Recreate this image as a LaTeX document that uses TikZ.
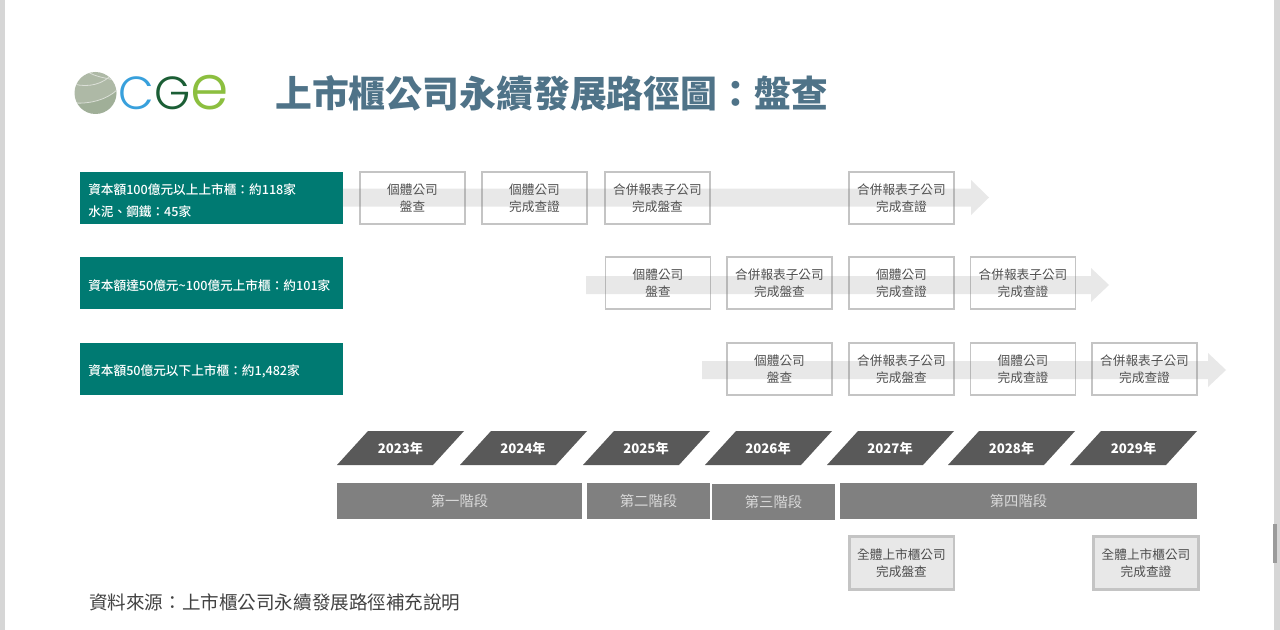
\documentclass[tikz,border=0pt]{standalone}
\usepackage{fontspec}
\usepackage{xcolor}
\setmainfont{Noto Sans CJK TC}
\newfontfamily\logofont{Poppins Light}
\newfontfamily\mediumfont{Noto Sans CJK TC Medium}
\newcommand{\widecolon}{\symbol{"FF1A}}
\definecolor{vizTeal}{HTML}{007A72}
\definecolor{vizTitle}{HTML}{4F7388}
\definecolor{vizText}{HTML}{4D4D4D}
\definecolor{vizBorder}{HTML}{C4C4C4}
\definecolor{vizYear}{HTML}{595959}
\definecolor{vizPhase}{HTML}{808080}
\definecolor{vizAll}{HTML}{E8E8E8}
\definecolor{vizEdge}{HTML}{D6D6D6}
\definecolor{vizGlobe}{HTML}{AEB9A6}
\definecolor{vizLogoBlue}{HTML}{38A0DC}
\definecolor{vizLogoDark}{HTML}{1B5E35}
\definecolor{vizLogoLime}{HTML}{8CBF3F}
\tikzset{
  stagebox/.style={draw=vizBorder, line width=0.035cm, fill=white, text=vizText, minimum width=2.62cm, minimum height=1.3cm, inner sep=0pt, align=center, font=\fontsize{9}{12.1}\selectfont},
  allbox/.style={stagebox, fill=vizAll, line width=0.07cm, minimum width=2.62cm, minimum height=1.32cm},
  tealtext/.style={anchor=west, text=white, inner sep=0pt, align=left, font=\mediumfont\fontsize{9}{15.6}\selectfont},
  yeartext/.style={text=white, inner sep=0pt, font=\fontsize{9.4}{12}\selectfont\bfseries},
  phasebox/.style={fill=vizPhase, text=white!85!black, inner sep=0pt, minimum height=0.92cm, font=\fontsize{10.2}{12}\selectfont},
  flowarrow/.style={fill=gray, fill opacity=0.18, draw=none},
  logoletter/.style={inner sep=0pt, font=\logofont}
}
\begin{document}
\begin{tikzpicture}[x=0.025cm, y=-0.025cm]
  \useasboundingbox (0,0) rectangle (1280,630);
  \fill[white] (0,0) rectangle (1280,630);
  \fill[vizEdge] (0,0) rectangle (5,630);
  \fill[vizEdge] (1274,0) rectangle (1280,630);
  \fill[vizYear!60!white] (1273,524) rectangle (1277,563);

  % logo
  \fill[vizGlobe] (95.5,93) circle (21);
  \begin{scope}
    \clip (95.5,93) circle (21);
    \fill[vizGlobe!85!green!70!black, opacity=0.2] (74,103) .. controls (90,104) and (106,100) .. (117,90) -- (117,115) -- (74,115) -- cycle;
    \draw[vizGlobe!45!white, line width=0.02cm] (74,84) .. controls (88,88) and (104,84) .. (112,74);
    \draw[vizGlobe!45!white, line width=0.02cm] (74,103) .. controls (90,104) and (106,100) .. (117,90);
    \draw[vizGlobe!45!white, line width=0.02cm] (88,72) .. controls (96,77) and (106,78) .. (114,80);
  \end{scope}
  \node[logoletter, text=vizLogoBlue, anchor=base west] (logoC) at (118.5,110) {\fontsize{33}{33}\selectfont C};
  \node[logoletter, text=vizLogoDark, anchor=base west] (logoG) at (154.5,110) {\fontsize{33}{33}\selectfont G};
  \node[logoletter, text=vizLogoLime, anchor=base west] (logoE) at (190.5,110) {\fontsize{44}{44}\selectfont e};

  % title
  \node[anchor=west, inner sep=0pt, text=vizTitle, font=\fontsize{26.2}{30}\selectfont\bfseries] (title) at (275,93.5) {上市櫃公司永續發展路徑圖\widecolon 盤查};

  % left labels
  \fill[vizTeal] (80,172) rectangle (342.5,224);
  \node[tealtext] (capA) at (88,201) {資本額100億元以上上市櫃\widecolon 約118家\\水泥、鋼鐵\widecolon 45家};
  \fill[vizTeal] (80,257) rectangle (342.5,309);
  \node[tealtext] (capB) at (88,286) {資本額達50億元\textasciitilde 100億元上市櫃\widecolon 約101家};
  \fill[vizTeal] (80,343) rectangle (342.5,395);
  \node[tealtext] (capC) at (88,371.5) {資本額50億元以下上市櫃\widecolon 約1,482家};

  % first row
  \node[stagebox] (rowA1) at (412.5,198) {個體公司\\盤查};
  \node[stagebox] (rowA2) at (534.5,198) {個體公司\\完成查證};
  \node[stagebox] (rowA3) at (657.5,198) {合併報表子公司\\完成盤查};
  \node[stagebox] (rowA4) at (901.5,198) {合併報表子公司\\完成查證};
  % second row
  \node[stagebox] (rowB1) at (658,283) {個體公司\\盤查};
  \node[stagebox] (rowB2) at (779.5,283) {合併報表子公司\\完成盤查};
  \node[stagebox] (rowB3) at (901.5,283) {個體公司\\完成查證};
  \node[stagebox] (rowB4) at (1023,283) {合併報表子公司\\完成查證};
  % third row
  \node[stagebox] (rowC1) at (779.5,369) {個體公司\\盤查};
  \node[stagebox] (rowC2) at (901.5,369) {合併報表子公司\\完成盤查};
  \node[stagebox] (rowC3) at (1023,369) {個體公司\\完成查證};
  \node[stagebox] (rowC4) at (1144.5,369) {合併報表子公司\\完成查證};

  % arrows over the boxes
  \fill[flowarrow] (342.5,188.5) -- (971,188.5) -- (971,180) -- (989,197.5) -- (971,215) -- (971,206.5) -- (342.5,206.5) -- cycle;
  \fill[flowarrow] (586,276) -- (1091,276) -- (1091,268) -- (1109,285) -- (1091,302) -- (1091,294) -- (586,294) -- cycle;
  \fill[flowarrow] (702,361) -- (1208,361) -- (1208,353) -- (1226,370) -- (1208,387) -- (1208,379) -- (702,379) -- cycle;

  % years
  \fill[vizYear] (337,465) -- (368,431) -- (464,431) -- (433,465) -- cycle;
  \node[yeartext] (y2023) at (400.5,448) {2023年};
  \fill[vizYear] (460,465) -- (491,431) -- (587,431) -- (556,465) -- cycle;
  \node[yeartext] (y2024) at (523,448) {2024年};
  \fill[vizYear] (583,465) -- (614,431) -- (710,431) -- (679,465) -- cycle;
  \node[yeartext] (y2025) at (646,448) {2025年};
  \fill[vizYear] (705,465) -- (736,431) -- (832,431) -- (801,465) -- cycle;
  \node[yeartext] (y2026) at (768,448) {2026年};
  \fill[vizYear] (827,465) -- (858,431) -- (954,431) -- (923,465) -- cycle;
  \node[yeartext] (y2027) at (890,448) {2027年};
  \fill[vizYear] (948,465) -- (979,431) -- (1075,431) -- (1044,465) -- cycle;
  \node[yeartext] (y2028) at (1011.5,448) {2028年};
  \fill[vizYear] (1070,465) -- (1101,431) -- (1197,431) -- (1166,465) -- cycle;
  \node[yeartext] (y2029) at (1133.5,448) {2029年};

  % phases
  \node[phasebox, minimum width=6.125cm] (phaseA) at (459.5,501) {第一階段};
  \node[phasebox, minimum width=3.075cm] (phaseB) at (648.5,501) {第二階段};
  \node[phasebox, minimum width=3.075cm] (phaseC) at (773.5,502) {第三階段};
  \node[phasebox, minimum width=8.925cm] (phaseD) at (1018.5,501) {第四階段};

  % all companies
  \node[allbox] (allA) at (901.5,563) {全體上市櫃公司\\完成盤查};
  \node[allbox] (allB) at (1146,563) {全體上市櫃公司\\完成查證};

  % source
  \node[anchor=west, inner sep=0pt, text=vizText!85!black, font=\fontsize{13.2}{16}\selectfont] (source) at (89,602) {資料來源\widecolon 上市櫃公司永續發展路徑補充說明};
\end{tikzpicture}
\end{document}
